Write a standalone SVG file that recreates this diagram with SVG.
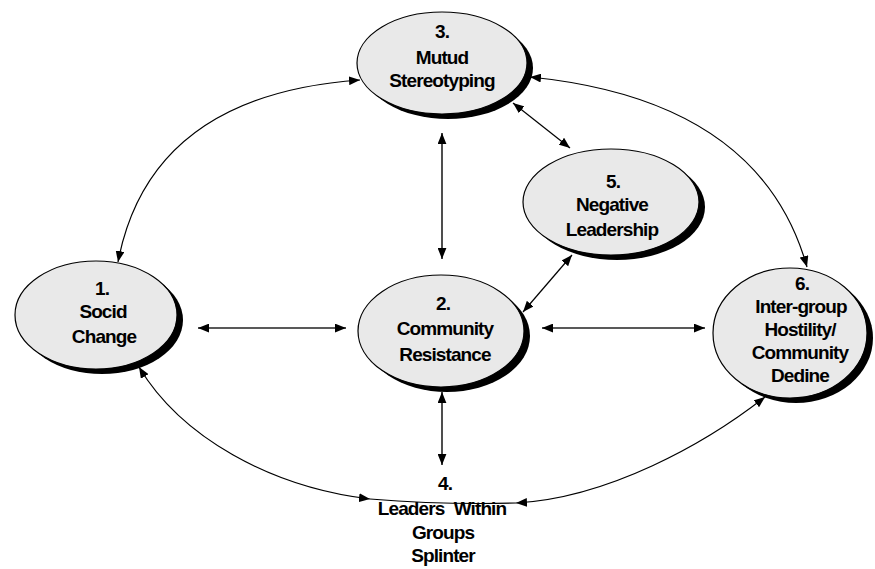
<svg xmlns="http://www.w3.org/2000/svg" width="875" height="569" viewBox="0 0 875 569">
  <style>
    .shadow { fill: #000; }
    .body { fill: #e9e9e9; stroke: #000; stroke-width: 1.2; }
    .label { font-family: "Liberation Sans", Arial, sans-serif; font-weight: bold; font-size: 19px; letter-spacing: -0.9px; fill: #000; text-anchor: middle; }
    .link { fill: none; stroke: #000; stroke-width: 1.2; }
    .link.heavy { stroke: #222; stroke-width: 1.6; }
  </style>
  <defs>
    <marker id="head" viewBox="0 0 10 8" refX="10" refY="4" markerWidth="11" markerHeight="9" markerUnits="userSpaceOnUse" orient="auto-start-reverse">
      <path d="M0,0 L10,4 L0,8 z" fill="#000"/>
    </marker>
  </defs>

  <rect width="875" height="569" fill="#fff"/>

  <!-- connectors -->
  <g id="connectors">
    <!-- 3 <-> 1 -->
    <path class="link" d="M360,80 Q150,95 118,262" marker-start="url(#head)" marker-end="url(#head)"/>
    <!-- 3 <-> 6 -->
    <path class="link" d="M530,77 Q760,100 807,267" marker-start="url(#head)" marker-end="url(#head)"/>
    <!-- 3 <-> 2 -->
    <path class="link heavy" d="M442,133 L442,259" marker-start="url(#head)" marker-end="url(#head)"/>
    <!-- 3 <-> 5 -->
    <path class="link" d="M513,103 L570,148" marker-start="url(#head)" marker-end="url(#head)"/>
    <!-- 5 <-> 2 -->
    <path class="link" d="M572,255 L523,312" marker-start="url(#head)" marker-end="url(#head)"/>
    <!-- 1 <-> 2 -->
    <path class="link heavy" d="M198,328 L346,328" marker-start="url(#head)" marker-end="url(#head)"/>
    <!-- 2 <-> 6 -->
    <path class="link heavy" d="M542,328 L705,328" marker-start="url(#head)" marker-end="url(#head)"/>
    <!-- 2 <-> 4 -->
    <path class="link heavy" d="M442,392 L442,465" marker-start="url(#head)" marker-end="url(#head)"/>
    <!-- 1 <-> 4 -->
    <path class="link" d="M139,367 C181,437 270,487 370,499" marker-start="url(#head)" marker-end="url(#head)"/>
    <path class="link" d="M370,499 Q445,505 516,503"/>
    <!-- 6 <-> 4 -->
    <path class="link" d="M765,397 C705,444 608,498 516,503" marker-start="url(#head)" marker-end="url(#head)"/>
  </g>

  <!-- 1. Social Change -->
  <g id="node-1">
    <ellipse class="shadow" cx="102" cy="320" rx="81" ry="54"/>
    <ellipse class="body" cx="96" cy="315" rx="81" ry="54"/>
    <text class="label" x="102" y="295">1.</text>
    <text class="label" x="103" y="318">Socid</text>
    <text class="label" x="104" y="343">Change</text>
  </g>

  <!-- 2. Community Resistance -->
  <g id="node-2">
    <ellipse class="shadow" cx="447" cy="336" rx="83" ry="56"/>
    <ellipse class="body" cx="441" cy="331" rx="83" ry="56"/>
    <text class="label" x="443" y="310">2.</text>
    <text class="label" x="445" y="335">Community</text>
    <text class="label" x="445" y="361">Resistance</text>
  </g>

  <!-- 3. Mutual Stereotyping -->
  <g id="node-3">
    <ellipse class="shadow" cx="448" cy="68" rx="85" ry="51"/>
    <ellipse class="body" cx="442" cy="63" rx="85" ry="51"/>
    <text class="label" x="442" y="38">3.</text>
    <text class="label" x="442" y="64">Mutud</text>
    <text class="label" x="442" y="87">Stereotyping</text>
  </g>

  <!-- 4. Leaders Within Groups Splinter (label only) -->
  <g id="node-4">
    <text class="label" x="445" y="490">4.</text>
    <text class="label" x="442" y="515" word-spacing="5">Leaders Within</text>
    <text class="label" x="443" y="539">Groups</text>
    <text class="label" x="443" y="562">Splinter</text>
  </g>

  <!-- 5. Negative Leadership -->
  <g id="node-5">
    <ellipse class="shadow" cx="617" cy="207" rx="88" ry="53"/>
    <ellipse class="body" cx="611" cy="202" rx="88" ry="53"/>
    <text class="label" x="613" y="188">5.</text>
    <text class="label" x="612" y="211">Negative</text>
    <text class="label" x="612" y="236">Leadership</text>
  </g>

  <!-- 6. Inter-group Hostility / Community Decline -->
  <g id="node-6">
    <ellipse class="shadow" cx="796" cy="338" rx="77" ry="65"/>
    <ellipse class="body" cx="790" cy="333" rx="77" ry="65"/>
    <text class="label" x="802" y="290">6.</text>
    <text class="label" x="801" y="313">Inter-group</text>
    <text class="label" x="800" y="336">Hostility/</text>
    <text class="label" x="800" y="359">Community</text>
    <text class="label" x="800" y="382">Dedine</text>
  </g>
</svg>
